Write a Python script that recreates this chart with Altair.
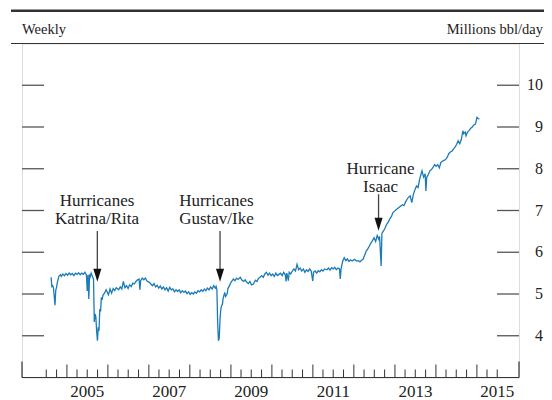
import altair as alt
import pandas as pd

# ---- data (weekly crude oil production, millions bbl/day) ----
dates = [
    "2004-08-13", "2004-08-20", "2004-08-27", "2004-09-03", "2004-09-17", "2004-09-24", "2004-10-01",
    "2004-10-08", "2004-10-22", "2004-11-05", "2004-11-12", "2004-11-26", "2004-12-10", "2004-12-24",
    "2005-01-07", "2005-01-21", "2005-02-04", "2005-02-18", "2005-03-04", "2005-03-18", "2005-04-01",
    "2005-04-15", "2005-04-29", "2005-05-13", "2005-05-27", "2005-06-10", "2005-06-24", "2005-07-01",
    "2005-07-08", "2005-07-15", "2005-07-22", "2005-07-29", "2005-08-05", "2005-08-19", "2005-08-26",
    "2005-09-02", "2005-09-09", "2005-09-16", "2005-09-23", "2005-09-30", "2005-10-07", "2005-10-14",
    "2005-10-21", "2005-10-28", "2005-11-04", "2005-11-11", "2005-11-18", "2005-12-02", "2005-12-16",
    "2006-01-06", "2006-01-20", "2006-02-03", "2006-02-17", "2006-03-03", "2006-03-17", "2006-04-07",
    "2006-04-21", "2006-05-05", "2006-05-19", "2006-06-02", "2006-06-16", "2006-06-30", "2006-07-14",
    "2006-07-28", "2006-08-11", "2006-08-25", "2006-09-08", "2006-09-22", "2006-10-06", "2006-10-13",
    "2006-10-20", "2006-11-03", "2006-11-17", "2006-12-01", "2006-12-15",
    "2007-01-05", "2007-01-19", "2007-02-02", "2007-02-16", "2007-03-02", "2007-03-16", "2007-03-30",
    "2007-04-13", "2007-04-27", "2007-05-11", "2007-05-25", "2007-06-08", "2007-06-22", "2007-07-06",
    "2007-07-20", "2007-08-03", "2007-08-17", "2007-08-31", "2007-09-14", "2007-09-28", "2007-10-12",
    "2007-10-26", "2007-11-09", "2007-11-23", "2007-12-07", "2007-12-21",
    "2008-01-04", "2008-01-18", "2008-02-01", "2008-02-15", "2008-02-29", "2008-03-14", "2008-03-28",
    "2008-04-11", "2008-04-25", "2008-05-09", "2008-05-23", "2008-06-06", "2008-06-20", "2008-07-04",
    "2008-07-18", "2008-08-01", "2008-08-15", "2008-08-22", "2008-08-29", "2008-09-05", "2008-09-12",
    "2008-09-19", "2008-09-26", "2008-10-03", "2008-10-10", "2008-10-17", "2008-10-24", "2008-11-07",
    "2008-11-14", "2008-11-28", "2008-12-05", "2008-12-19",
    "2009-01-02", "2009-01-23", "2009-02-06", "2009-02-20", "2009-03-06", "2009-03-25", "2009-04-10",
    "2009-04-24", "2009-05-08", "2009-05-22", "2009-06-05", "2009-06-19", "2009-07-03", "2009-07-20",
    "2009-08-07", "2009-08-21", "2009-09-04", "2009-09-18", "2009-10-02", "2009-10-16", "2009-10-30",
    "2009-11-13", "2009-11-27", "2009-12-11", "2009-12-25",
    "2010-01-08", "2010-01-22", "2010-02-05", "2010-02-19", "2010-03-05", "2010-03-19", "2010-04-02",
    "2010-04-16", "2010-04-30", "2010-05-07", "2010-05-14", "2010-05-28", "2010-06-04", "2010-06-18",
    "2010-07-02", "2010-07-16", "2010-07-30", "2010-08-13", "2010-08-27", "2010-09-10", "2010-09-24",
    "2010-10-08", "2010-10-22", "2010-11-05", "2010-11-19", "2010-12-03", "2010-12-17", "2010-12-31",
    "2011-01-07", "2011-01-21", "2011-02-04", "2011-02-18", "2011-03-04", "2011-03-18", "2011-04-01",
    "2011-04-15", "2011-05-06", "2011-05-20", "2011-06-03", "2011-06-17", "2011-07-01", "2011-07-15",
    "2011-07-29", "2011-08-12", "2011-08-26", "2011-09-02", "2011-09-09", "2011-09-23", "2011-10-07",
    "2011-10-21", "2011-11-04", "2011-11-18", "2011-12-02", "2011-12-16",
    "2012-01-06", "2012-01-27", "2012-02-10", "2012-02-24", "2012-03-09", "2012-03-23", "2012-04-06",
    "2012-04-20", "2012-05-04", "2012-05-18", "2012-06-01", "2012-06-15", "2012-06-29", "2012-07-13",
    "2012-07-27", "2012-08-10", "2012-08-17", "2012-08-31", "2012-09-07", "2012-09-21", "2012-10-05",
    "2012-10-19", "2012-11-02", "2012-11-16", "2012-11-30", "2012-12-14", "2012-12-28",
    "2013-01-11", "2013-01-25", "2013-02-08", "2013-02-22", "2013-03-08", "2013-03-22", "2013-04-05",
    "2013-04-19", "2013-05-03", "2013-05-17", "2013-05-31", "2013-06-14", "2013-06-28", "2013-07-12",
    "2013-07-26", "2013-08-09", "2013-08-30", "2013-09-13", "2013-09-27", "2013-10-04", "2013-10-11",
    "2013-10-25", "2013-11-08", "2013-11-22", "2013-12-06", "2013-12-20",
    "2014-01-03", "2014-01-17", "2014-01-31", "2014-02-14", "2014-02-28", "2014-03-14", "2014-03-28",
    "2014-04-11", "2014-04-25", "2014-05-09", "2014-05-23", "2014-06-06", "2014-06-20", "2014-07-04",
    "2014-07-18", "2014-08-01", "2014-08-15", "2014-08-29", "2014-09-05", "2014-09-19", "2014-09-26",
    "2014-10-10", "2014-10-24", "2014-11-07", "2014-11-21", "2014-12-05", "2014-12-19",
    "2015-01-02", "2015-01-09", "2015-01-23",
]
values = [
    5.40, 5.18, 5.20, 5.15, 4.73, 5.10, 5.16,
    5.28, 5.43, 5.46, 5.42, 5.48, 5.44, 5.49,
    5.45, 5.50, 5.46, 5.49, 5.44, 5.50, 5.47,
    5.51, 5.46, 5.50, 5.47, 5.52, 5.45, 5.07,
    5.46, 4.88, 5.47, 5.42, 5.50, 5.40, 5.36,
    4.33, 4.52, 4.45, 4.10, 3.88, 4.20, 4.12,
    4.64, 4.58, 4.92, 4.86, 4.97, 5.02, 5.10,
    4.98, 5.12, 5.02, 5.13, 5.08, 5.15, 5.10,
    5.17, 5.12, 5.30, 5.15, 5.20, 5.13, 5.22,
    5.18, 5.26, 5.24, 5.30, 5.34, 5.36, 5.10,
    5.32, 5.38, 5.34, 5.38, 5.31,
    5.28, 5.24, 5.20, 5.25, 5.17, 5.21, 5.14,
    5.19, 5.12, 5.17, 5.10, 5.15, 5.07, 5.16,
    5.10, 5.12, 5.05, 5.10, 5.06, 5.10, 5.03,
    5.08, 5.04, 5.07, 5.01, 5.05,
    4.99, 5.03, 5.00, 5.05, 5.02, 5.08, 5.05,
    5.10, 5.06, 5.12, 5.08, 5.14, 5.10, 5.17,
    5.12, 5.20, 5.14, 5.18, 5.10, 4.30, 3.88,
    3.95, 4.40, 4.64, 4.72, 4.75, 4.90, 5.04,
    4.94, 5.00, 5.13, 5.20,
    5.28, 5.36, 5.32, 5.38, 5.35, 5.40, 5.33,
    5.30, 5.34, 5.28, 5.25, 5.30, 5.22, 5.24,
    5.33, 5.30, 5.38, 5.40, 5.44, 5.40, 5.48,
    5.52, 5.45, 5.50, 5.44,
    5.48, 5.42, 5.50, 5.44, 5.47, 5.50, 5.44,
    5.52, 5.46, 5.30, 5.50, 5.32, 5.52, 5.48,
    5.55, 5.60, 5.55, 5.71, 5.58, 5.62, 5.55,
    5.60, 5.52, 5.58, 5.54, 5.60, 5.55, 5.31,
    5.52, 5.55, 5.50, 5.56, 5.53, 5.58, 5.55,
    5.60, 5.58, 5.62, 5.57, 5.63, 5.60, 5.64,
    5.58, 5.62, 5.60, 5.36, 5.60, 5.78, 5.87,
    5.80, 5.84, 5.78, 5.82, 5.79,
    5.83, 5.79, 5.80, 5.77, 5.81, 5.83, 5.93,
    6.03, 6.08, 6.15, 6.22, 6.28, 6.35, 6.26,
    6.40, 6.31, 6.38, 5.67, 6.45, 6.51, 6.58,
    6.67, 6.72, 6.80, 6.85, 6.95, 6.98,
    7.02, 7.05, 7.08, 7.11, 7.14, 7.12, 7.20,
    7.27, 7.32, 7.35, 7.19, 7.38, 7.50, 7.59,
    7.55, 7.75, 7.95, 7.80, 7.88, 7.47, 7.79,
    7.86, 7.95, 7.98, 8.03, 8.10,
    8.06, 8.10, 8.02, 8.15, 8.18, 8.20, 8.22,
    8.27, 8.36, 8.40, 8.42, 8.47, 8.52, 8.58,
    8.67, 8.60, 8.70, 8.91, 8.84, 8.88, 8.79,
    8.88, 8.92, 8.97, 9.00, 9.05, 9.07,
    9.23, 9.21, 9.19,
]

label_years = [2005, 2007, 2009, 2011, 2013, 2015]
tick_years = list(range(2004, 2016))
y_tick_values = [4, 5, 6, 7, 8, 9, 10]
axis_start, axis_end = "2003-11-28", "2016-01-11"

ann_labels = [["Hurricanes", "Katrina/Rita"], ["Hurricanes", "Gustav/Ike"], ["Hurricane", "Isaac"]]
ann_arrow_dates = ["2005-09-29", "2008-09-26", "2012-08-08"]
ann_arrow_top = [6.51, 6.51, 7.39]
ann_arrow_head = [5.45, 5.45, 6.67]
ann_text_dates = ["2005-09-26", "2008-08-25", "2012-08-26"]
ann_text_y = [7.10, 7.10, 7.88]

# ---- frames ----
df = pd.DataFrame({"date": dates, "value": values})
ticks = []
for yr in tick_years:
    for m in (1, 4, 7, 10):
        d = pd.Timestamp(year=yr, month=m, day=1)
        if pd.Timestamp("2004-07-01") <= d <= pd.Timestamp("2015-07-01"):
            ticks.append({"date": d.strftime("%Y-%m-%d"), "major": m == 1})
tick_df = pd.DataFrame(ticks)
minor_df = tick_df[~tick_df["major"]]
major_df = tick_df[tick_df["major"]]
edge_df = pd.DataFrame({"date": [axis_start, axis_end]})
base_df = pd.DataFrame({"start": [axis_start], "end": [axis_end]})
xlab_df = pd.DataFrame({"date": [f"{y}-07-02" for y in label_years],
                        "label": [str(y) for y in label_years]})
ytick_df = pd.DataFrame({"v": y_tick_values, "label": [str(v) for v in y_tick_values]})
ann_df = pd.DataFrame({
    "adate": ann_arrow_dates, "top": ann_arrow_top, "head": ann_arrow_head,
    "tdate": ann_text_dates, "ty": ann_text_y, "label": ann_labels,
})

W, H = 497, 334
FONT = "Liberation Serif"
TXT = "#222222"

x_scale = alt.Scale(type="utc", domain=[
    alt.DateTime(year=2003, month=11, date=28, utc=True),
    alt.DateTime(year=2016, month=1, date=11, utc=True),
])
y_scale = alt.Scale(domain=[3, 11], nice=False, zero=False)

X = lambda f: alt.X(f, scale=x_scale, axis=None)
Y = lambda f: alt.Y(f, scale=y_scale, axis=None)

line = alt.Chart(df).mark_line(color="#1b7bb8", strokeWidth=1.3).encode(
    x=X("date:T"), y=Y("value:Q"))

baseline = alt.Chart(base_df).mark_rule(color="#333333", strokeWidth=1.2).encode(
    x=X("start:T"), x2="end:T", y=alt.value(H))
minor = alt.Chart(minor_df).mark_rule(color="#333333", strokeWidth=1).encode(
    x=X("date:T"), y=alt.value(H), y2=alt.value(H - 8))
major = alt.Chart(major_df).mark_rule(color="#333333", strokeWidth=1).encode(
    x=X("date:T"), y=alt.value(H), y2=alt.value(H - 13))
edges = alt.Chart(edge_df).mark_rule(color="#333333", strokeWidth=1.2).encode(
    x=X("date:T"), y=alt.value(H), y2=alt.value(H - 16))
xlabels = alt.Chart(xlab_df).mark_text(
    font=FONT, fontSize=17, color=TXT, align="center", baseline="alphabetic"
).encode(x=X("date:T"), y=alt.value(H + 19.5), text="label")

ldash = alt.Chart(ytick_df).mark_rule(color="#555555", strokeWidth=1.3).encode(
    y=Y("v:Q"), x=alt.value(0), x2=alt.value(22))
rdash = alt.Chart(ytick_df).mark_rule(color="#555555", strokeWidth=1.3).encode(
    y=Y("v:Q"), x=alt.value(W - 22), x2=alt.value(W))
ylabels = alt.Chart(ytick_df).mark_text(
    font=FONT, fontSize=16, color=TXT, align="right", baseline="middle"
).encode(y=Y("v:Q"), x=alt.value(W + 24), text="label")

shafts = alt.Chart(ann_df).mark_rule(color="#444444", strokeWidth=1.3).encode(
    x=X("adate:T"), y=Y("top:Q"), y2="head:Q")
heads = alt.Chart(ann_df).mark_point(
    shape="M-0.62,-1L0.62,-1L0,1Z", filled=True, color="#111111", size=169, opacity=1
).encode(x=X("adate:T"), y=Y("head:Q"))
texts = alt.Chart(ann_df).mark_text(
    font=FONT, fontSize=17, lineHeight=18, align="center", baseline="alphabetic", color=TXT
).encode(x=X("tdate:T"), y=Y("ty:Q"), text="label")

one = pd.DataFrame({"a": [0]})
thick = alt.Chart(one).mark_rule(color="#333333", strokeWidth=2.6).encode(
    x=alt.value(-11), x2=alt.value(522), y=alt.value(-32.8))
thin = alt.Chart(one).mark_rule(color="#333333", strokeWidth=1.2).encode(
    x=alt.value(-11), x2=alt.value(522), y=alt.value(0))
hl = alt.Chart(pd.DataFrame({"t": ["Weekly"]})).mark_text(
    font=FONT, fontSize=14.5, align="left", baseline="alphabetic", color=TXT
).encode(x=alt.value(0), y=alt.value(-10), text="t")
hr = alt.Chart(pd.DataFrame({"t": ["Millions bbl/day"]})).mark_text(
    font=FONT, fontSize=14.5, align="right", baseline="alphabetic", color=TXT
).encode(x=alt.value(521), y=alt.value(-10), text="t")

chart = alt.layer(
    line, baseline, minor, major, edges, xlabels, ldash, rdash, ylabels,
    shafts, heads, texts, thick, thin, hl, hr
).properties(
    width=W, height=H,
    padding={"left": 14, "top": 35.5, "right": 25, "bottom": 22.5},
    autosize=alt.AutoSizeParams(type="none"),
).configure_view(stroke=None).configure(background="white")

chart.save("out.html", embed_options={"renderer": "svg", "actions": False})
